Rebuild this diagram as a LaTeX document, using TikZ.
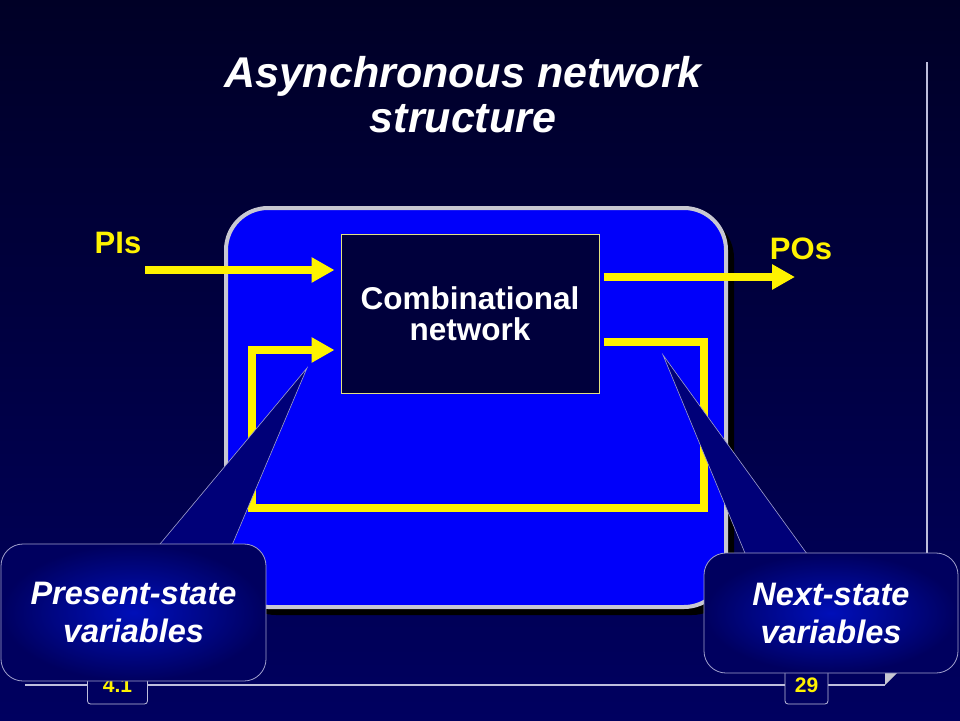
\documentclass[tikz,border=0pt]{standalone}
\usepackage{fontspec}
\setmainfont{Liberation Sans}
\usepackage{tikz}
\usetikzlibrary{arrows.meta,shadows}
\definecolor{bgtop}{RGB}{0,0,38}
\definecolor{bgbot}{RGB}{0,0,96}
\definecolor{boardblue}{RGB}{0,0,250}
\definecolor{rimgray}{RGB}{200,200,210}
\definecolor{combfill}{RGB}{0,0,60}
\definecolor{combrim}{RGB}{225,225,130}
\definecolor{calin}{RGB}{0,15,185}
\definecolor{calout}{RGB}{0,0,95}
\definecolor{calrim}{RGB}{160,160,205}
\definecolor{tipfill}{RGB}{0,0,120}
\definecolor{rulecol}{RGB}{190,190,220}

\begin{document}
\begin{tikzpicture}[x=1pt,y=-1pt,
sig/.style={draw=yellow,line width=8pt,-{Triangle[length=23pt,width=24pt]}},
panel/.style={draw=rimgray,line width=4pt,fill=boardblue,rounded corners=42pt,
  minimum width=500pt,minimum height=399pt,
  drop shadow={shadow xshift=8pt,shadow yshift=-8pt,fill=black,opacity=1}},
combbox/.style={draw=combrim,line width=1pt,fill=combfill,minimum width=258pt,
  minimum height=159pt,inner sep=0pt,text=white,align=center,
  font=\bfseries\fontsize{31.5}{31}\selectfont},
callout/.style={draw=calrim,line width=0.8pt,rounded corners=22pt,shading=radial,
  inner color=calin,outer color=calout,text=white,align=center,inner sep=0pt,
  font=\bfseries\itshape\fontsize{32.5}{38}\selectfont},
pointer/.style={draw=calrim,line width=0.6pt,fill=tipfill},
pagebox/.style={draw=rulecol,line width=0.8pt,fill=bgbot,rounded corners=3pt,
  minimum height=38pt,text=yellow,font=\bfseries\fontsize{21}{24}\selectfont},
sigtext/.style={text=yellow,font=\bfseries\fontsize{31}{36}\selectfont},
rule/.style={draw=rulecol,line width=1.2pt}]
\useasboundingbox (0,0) rectangle (960,720);
\shade[top color=bgtop,bottom color=bgbot] (0,0) rectangle (960,720);
\draw[rule] (927,62) -- (927,665);
\draw[rule] (25,685) -- (885,685);
\fill[rimgray] (885,673) -- (897,673) -- (885,685) -- cycle;
\node[pagebox,minimum width=60pt] (secno) at (117.5,685) {4.1};
\node[pagebox,minimum width=43pt] (pageno) at (806.5,685) {29};
\node (title) at (463,95) [text=white,align=center,
  font=\bfseries\itshape\fontsize{43}{45}\selectfont] {Asynchronous network\\structure};
\node[panel] (board) at (476,407.5) {};
\node[combbox] (comb) at (470,313.5) {Combinational\\network};
\node[sigtext] (pis) at (118,243) {PIs};
\node[sigtext] (pos) at (801,249) {POs};
\coordinate (pin) at (145,270);
\coordinate (pout) at (795,277);
\coordinate (nsv) at (704,342);
\coordinate (psv) at (252,350);
\draw[sig,shorten >=6pt] (pin) -- (pin -| comb.west);
\draw[sig,shorten <=4pt] (pout -| comb.east) -- (pout);
\draw[sig,shorten <=4pt,shorten >=6pt] (nsv -| comb.east) -- (nsv) -- (704,508)
  -- (252,508) -- (psv) -- (psv -| comb.west);
\coordinate (ltip) at (307,368);
\coordinate (rtip) at (663,355);
\filldraw[pointer] (ltip) -- (155,550) -- (230,550) -- cycle;
\filldraw[pointer] (rtip) -- (747,558) -- (810,558) -- cycle;
\node[callout,minimum width=265pt,minimum height=137pt] (pcall) at (133.5,612.5)
  {Present-state\\variables};
\node[callout,minimum width=254pt,minimum height=120pt] (ncall) at (831,613)
  {Next-state\\variables};
\end{tikzpicture}
\end{document}
